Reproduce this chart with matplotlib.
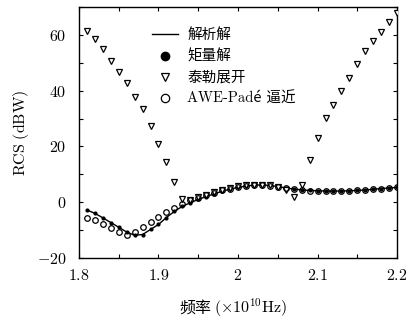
import matplotlib
matplotlib.use('Agg')
import matplotlib.pyplot as plt
from matplotlib.ticker import MultipleLocator, FuncFormatter

plt.rcParams['font.family'] = ['cmr10', 'Noto Sans CJK SC']
plt.rcParams['mathtext.fontset'] = 'cm'
plt.rcParams['axes.formatter.use_mathtext'] = True

# frequency (x 1e10 Hz), step 0.01
freq = [1.81, 1.82, 1.83, 1.84, 1.85, 1.86, 1.87, 1.88, 1.89, 1.90,
        1.91, 1.92, 1.93, 1.94, 1.95, 1.96, 1.97, 1.98, 1.99, 2.00,
        2.01, 2.02, 2.03, 2.04, 2.05, 2.06, 2.07, 2.08, 2.09, 2.10,
        2.11, 2.12, 2.13, 2.14, 2.15, 2.16, 2.17, 2.18, 2.19, 2.20]

# analytic solution
exact = [-2.8, -4.0, -5.6, -7.3, -9.0, -10.7, -11.9, -11.6, -9.8, -8.0,
         -5.5, -3.3, -1.5, -0.2, 1.0, 2.0, 3.0, 3.9, 4.7, 5.3,
         5.8, 6.1, 6.2, 6.0, 5.6, 5.1, 4.7, 4.4, 4.2, 4.1,
         4.0, 4.0, 4.0, 4.1, 4.2, 4.4, 4.6, 4.9, 5.1, 5.3]

# method of moments
mom = [-2.8, -4.0, -5.6, -7.3, -9.0, -10.7, -11.9, -11.6, -9.8, -8.0,
       -5.5, -3.3, -1.5, -0.2, 1.0, 2.0, 3.0, 3.9, 4.7, 5.3,
       5.8, 6.1, 6.2, 6.0, 5.6, 5.1, 4.7, 4.4, 4.2, 4.1,
       4.0, 4.0, 4.0, 4.1, 4.2, 4.4, 4.6, 4.9, 5.1, 5.3]

# taylor expansion
taylor = [61.5, 58.4, 54.8, 50.7, 46.8, 42.6, 37.8, 33.3, 27.5, 21.0,
          14.5, 7.1, 1.3, 0.6, 1.7, 2.7, 3.6, 4.5, 5.2, 5.8,
          6.1, 6.3, 6.3, 6.0, 5.4, 4.2, 1.8, 6.3, 15.1, 23.0,
          30.1, 34.8, 40.0, 44.4, 49.4, 54.3, 57.9, 61.1, 64.7, 67.9]

# AWE-Pade approximation
awe = [-5.5, -6.5, -7.8, -9.3, -10.7, -11.6, -10.6, -9.0, -7.0, -5.2,
       -3.5, -2.1, -0.5, 0.6, 1.6, 2.5, 3.4, 4.2, 4.9, 5.5,
       5.9, 6.1, 6.1, 5.9, 5.5, 5.0, 4.6, 4.3, 4.1, 4.0,
       4.0, 4.0, 4.0, 4.1, 4.2, 4.4, 4.6, 4.9, 5.1, 5.3]

fig = plt.figure(figsize=(4.09, 3.2), dpi=100)
ax = fig.add_axes([0.193, 0.194, 0.778, 0.784])

ax.plot(freq, exact, color='black', lw=1.0, label='解析解', zorder=3)
ax.plot(freq, mom, ls='none', marker='o', ms=2.0, mfc='black', mec='black',
        label='矩量解', zorder=4)
ax.plot(freq, taylor, ls='none', marker='v', ms=4.2, mfc='white', mec='black',
        mew=0.9, label='泰勒展开', zorder=5)
ax.plot(freq, awe, ls='none', marker='o', ms=4.0, mfc='none', mec='black',
        mew=0.9, label='AWE-Padé 逼近', zorder=5)

ax.set_xlim(1.8, 2.2)
ax.set_ylim(-20, 70)
ax.xaxis.set_major_locator(MultipleLocator(0.1))
ax.xaxis.set_minor_locator(MultipleLocator(0.05))
ax.yaxis.set_major_locator(MultipleLocator(20))
ax.yaxis.set_minor_locator(MultipleLocator(10))
fmt = FuncFormatter(lambda v, p: f'${v:g}$')
ax.xaxis.set_major_formatter(fmt)
ax.yaxis.set_major_formatter(fmt)

ax.tick_params(which='both', direction='in', top=True, right=True,
               length=3, width=0.8, labelsize=11.5)
ax.tick_params(axis='x', which='major', pad=7)
ax.tick_params(axis='y', which='major', pad=9)
for s in ax.spines.values():
    s.set_linewidth(1.0)

# x label split in two so the Chinese part can use the CJK font
ax.text(0.415, -0.2, '频率', transform=ax.transAxes, ha='right', va='center',
        fontsize=11.5, family='Noto Sans CJK SC')
ax.text(0.425, -0.2, r'$(\times10^{10}\mathrm{Hz})$', transform=ax.transAxes,
        ha='left', va='center', fontsize=11.5)
ax.set_ylabel(r'$\mathrm{RCS\ (dBW)}$', fontsize=11.5, labelpad=4)

leg = ax.legend(loc='upper left', bbox_to_anchor=(0.23, 0.915), frameon=False,
                fontsize=10.5, handlelength=1.8, handletextpad=0.6,
                labelspacing=0.5, borderpad=0, borderaxespad=0)
for h in leg.legend_handles:
    h.set_markersize(6)

fig.savefig('out.png', dpi=100)
plt.close()
